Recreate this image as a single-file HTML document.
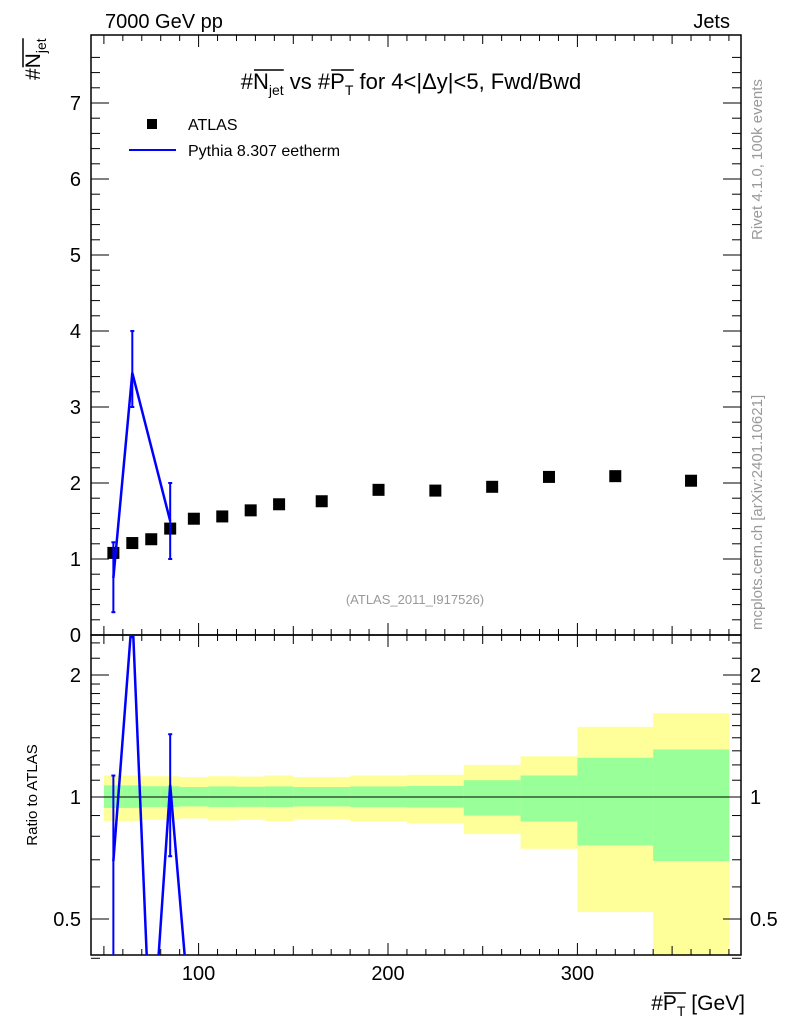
<!DOCTYPE html>
<html><head><meta charset="utf-8"><style>
html,body{margin:0;background:#fff;width:786px;height:1024px;overflow:hidden}
svg{display:block;font-family:"Liberation Sans",Arial,sans-serif}
</style></head><body>
<svg id="c" width="786" height="1024" viewBox="0 0 786 1024">
<defs>
<clipPath id="cm"><rect x="91" y="35" width="650" height="600"/></clipPath>
<clipPath id="cr"><rect x="91" y="635" width="650" height="320"/></clipPath>
</defs>
<g id="bands" clip-path="url(#cr)"></g>
<g id="frames"></g>
<g id="marks"></g>
<text x="105" y="28" font-size="20">7000 GeV pp</text>
<text x="730" y="28" font-size="20" text-anchor="end">Jets</text>
<text x="411" y="89" font-size="22" text-anchor="middle">#<tspan class="ov">N<tspan font-size="14" dy="6">jet</tspan></tspan><tspan dy="-6"> vs #</tspan><tspan class="ov">P<tspan font-size="14" dy="6">T</tspan></tspan><tspan dy="-6"> for 4&lt;|Δy|&lt;5, Fwd/Bwd</tspan></text>
<g transform="translate(40,80) rotate(-90)"><text x="0" y="0" font-size="21">#<tspan class="ov">N<tspan font-size="14" dy="6">jet</tspan></tspan></text></g>
<rect x="147" y="119" width="10" height="10" fill="#000"/>
<text x="188" y="130" font-size="16">ATLAS</text>
<line x1="129" y1="150" x2="176" y2="150" stroke="#0000ff" stroke-width="2"/>
<text x="188" y="156" font-size="16">Pythia 8.307 eetherm</text>
<text x="415" y="604" font-size="13" fill="#999" text-anchor="middle">(ATLAS_2011_I917526)</text>
<text transform="translate(762,240) rotate(-90)" font-size="15" fill="#999">Rivet 4.1.0,  100k events</text>
<text transform="translate(762,630) rotate(-90)" font-size="15" fill="#999">mcplots.cern.ch [arXiv:2401.10621]</text>
<text transform="translate(37,795) rotate(-90)" font-size="15" text-anchor="middle">Ratio to ATLAS</text>
<text x="745" y="1010" font-size="21" text-anchor="end">#<tspan class="ov">P<tspan font-size="14" dy="6">T</tspan></tspan><tspan dy="-6"> [GeV]</tspan></text>
</svg>
<script>
const edges=[50,60,70,80,90,105,120,135,150,180,210,240,270,300,340,380];
const atlas=[1.08,1.21,1.26,1.40,1.53,1.56,1.64,1.72,1.76,1.91,1.90,1.95,2.08,2.09,2.03];
const pythia=[0.75,3.45,0,1.50,0,0,0,0,0,0,0,0,0,0,0];
const pyErrLo=[0.30,3.0,0,1.0,0,0,0,0,0,0,0,0,0,0,0];
const pyErrHi=[1.22,4.0,0,2.0,0,0,0,0,0,0,0,0,0,0,0];
const greenHi=[1.068,1.068,1.063,1.063,1.058,1.062,1.06,1.062,1.058,1.062,1.065,1.10,1.13,1.25,1.31];
const greenLo=[0.94,0.94,0.945,0.945,0.948,0.945,0.946,0.945,0.948,0.944,0.942,0.90,0.87,0.76,0.695];
const yelHi=[1.13,1.13,1.125,1.125,1.12,1.125,1.123,1.13,1.12,1.13,1.135,1.20,1.26,1.49,1.61];
const yelLo=[0.873,0.873,0.878,0.878,0.885,0.875,0.878,0.872,0.882,0.87,0.86,0.81,0.745,0.52,0.35];
const yTicks=[0,1,2,3,4,5,6,7];
const xTicks=[100,200,300];
const rTicks=[0.5,1,2];
const NS="http://www.w3.org/2000/svg";
const X=v=>198.6+(v-100)*1.894;
const Y=v=>635-v*76;
const R=v=>797-Math.log2(Math.max(v,0.22))*122;
function mk(p,t,a){const e=document.createElementNS(NS,t);for(const k in a)e.setAttribute(k,a[k]);p.appendChild(e);return e;}
const fr=document.getElementById('frames'),mg=document.getElementById('marks'),bg=document.getElementById('bands');
document.querySelectorAll('tspan.ov').forEach(t=>{const b=t.getBBox();
 const ln=mk(t.closest('text').parentNode,'line',{x1:b.x+1,x2:b.x+b.width,y1:b.y+1,y2:b.y+1,stroke:'#000','stroke-width':1.5});
 
 });
for(let i=0;i<edges.length-1;i++){
 const x1=X(edges[i]),x2=X(edges[i+1]);
 let r=mk(bg,'rect',{x:x1,y:R(yelHi[i]),width:x2-x1+0.5,height:R(yelLo[i])-R(yelHi[i]),fill:'#ffff99'});
 
 
 r=mk(bg,'rect',{x:x1,y:R(greenHi[i]),width:x2-x1+0.5,height:R(greenLo[i])-R(greenHi[i]),fill:'#99ff99'});
 
 
}
mk(bg,'line',{x1:91,x2:741,y1:R(1),y2:R(1),stroke:'#000','stroke-width':1});
let f=mk(fr,'rect',{x:91,y:35,width:650,height:600,fill:'none',stroke:'#000','stroke-width':1.5});


f=mk(fr,'rect',{x:91,y:635,width:650,height:320,fill:'none',stroke:'#000','stroke-width':1.5});


const L=(a)=>mk(fr,'line',Object.assign({stroke:'#000','stroke-width':1},a));
for(let v=50;v<=380;v+=10){const x=X(v);if(x<92||x>740)continue;
 const len=v%100==0?12:(v%50==0?9:6);
 for(const [t,b] of [[35,635],[635,955]]){L({x1:x,x2:x,y1:b,y2:b-len});L({x1:x,x2:x,y1:t,y2:t+len});}}
xTicks.forEach(v=>{const t=mk(fr,'text',{x:X(v),y:980,'font-size':20,'text-anchor':'middle'});t.textContent=v;
 
 });
for(let v=0;v<=7.8;v+=0.2){const y=Y(v);const maj=Math.abs(v-Math.round(v))<1e-6;const len=maj?18:9;
 L({x1:91,x2:91+len,y1:y,y2:y});L({x1:741,x2:741-len,y1:y,y2:y});}
yTicks.forEach(v=>{const t=mk(fr,'text',{x:81,y:Y(v)+7,'font-size':20,'text-anchor':'end'});t.textContent=v;
 
 });
const rmin=[0.4,0.6,0.7,0.8,0.9,1.1,1.2,1.3,1.4,1.5,1.6,1.7,1.8,1.9,2.2,2.4];
rmin.forEach(v=>{const y=R(v);L({x1:91,x2:100,y1:y,y2:y});L({x1:741,x2:732,y1:y,y2:y});});
rTicks.forEach(v=>{const y=R(v);L({x1:91,x2:109,y1:y,y2:y});L({x1:741,x2:723,y1:y,y2:y});
 let t=mk(fr,'text',{x:81,y:y+7,'font-size':20,'text-anchor':'end'});t.textContent=v;
 
 
 t=mk(fr,'text',{x:750,y:y+7,'font-size':20});t.textContent=v;
 
 });
const cen=atlas.map((_,i)=>(edges[i]+edges[i+1])/2);
const mm=mk(mg,'g',{'clip-path':'url(#cm)'}),rr=mk(mg,'g',{'clip-path':'url(#cr)'});
atlas.forEach((v,i)=>{const r=mk(mm,'rect',{x:X(cen[i])-6,y:Y(v)-6,width:12,height:12,fill:'#000'});
 
 });
let pts=[];pythia.forEach((v,i)=>{if(v>0)pts.push(X(cen[i])+','+Y(v));});
let pl=mk(mm,'polyline',{points:pts.join(' '),fill:'none',stroke:'#0000ff','stroke-width':2.5});


pythia.forEach((v,i)=>{if(v<=0)return;const x=X(cen[i]);
 mk(mm,'line',{x1:x,x2:x,y1:Y(pyErrLo[i]),y2:Y(pyErrHi[i]),stroke:'#0000ff','stroke-width':2});
 mk(mm,'line',{x1:x-2,x2:x+2,y1:Y(pyErrLo[i]),y2:Y(pyErrLo[i]),stroke:'#0000ff','stroke-width':2});
 mk(mm,'line',{x1:x-2,x2:x+2,y1:Y(pyErrHi[i]),y2:Y(pyErrHi[i]),stroke:'#0000ff','stroke-width':2});});
pts=pythia.map((v,i)=>X(cen[i])+','+R(v/atlas[i]));
pl=mk(rr,'polyline',{points:pts.join(' '),fill:'none',stroke:'#0000ff','stroke-width':2.5});


pythia.forEach((v,i)=>{if(v<=0)return;const x=X(cen[i]);const lo=R(pyErrLo[i]/atlas[i]),hi=R(pyErrHi[i]/atlas[i]);
 mk(rr,'line',{x1:x,x2:x,y1:lo,y2:hi,stroke:'#0000ff','stroke-width':2});
 mk(rr,'line',{x1:x-2,x2:x+2,y1:lo,y2:lo,stroke:'#0000ff','stroke-width':2});
 mk(rr,'line',{x1:x-2,x2:x+2,y1:hi,y2:hi,stroke:'#0000ff','stroke-width':2});});
</script>
</body></html>
